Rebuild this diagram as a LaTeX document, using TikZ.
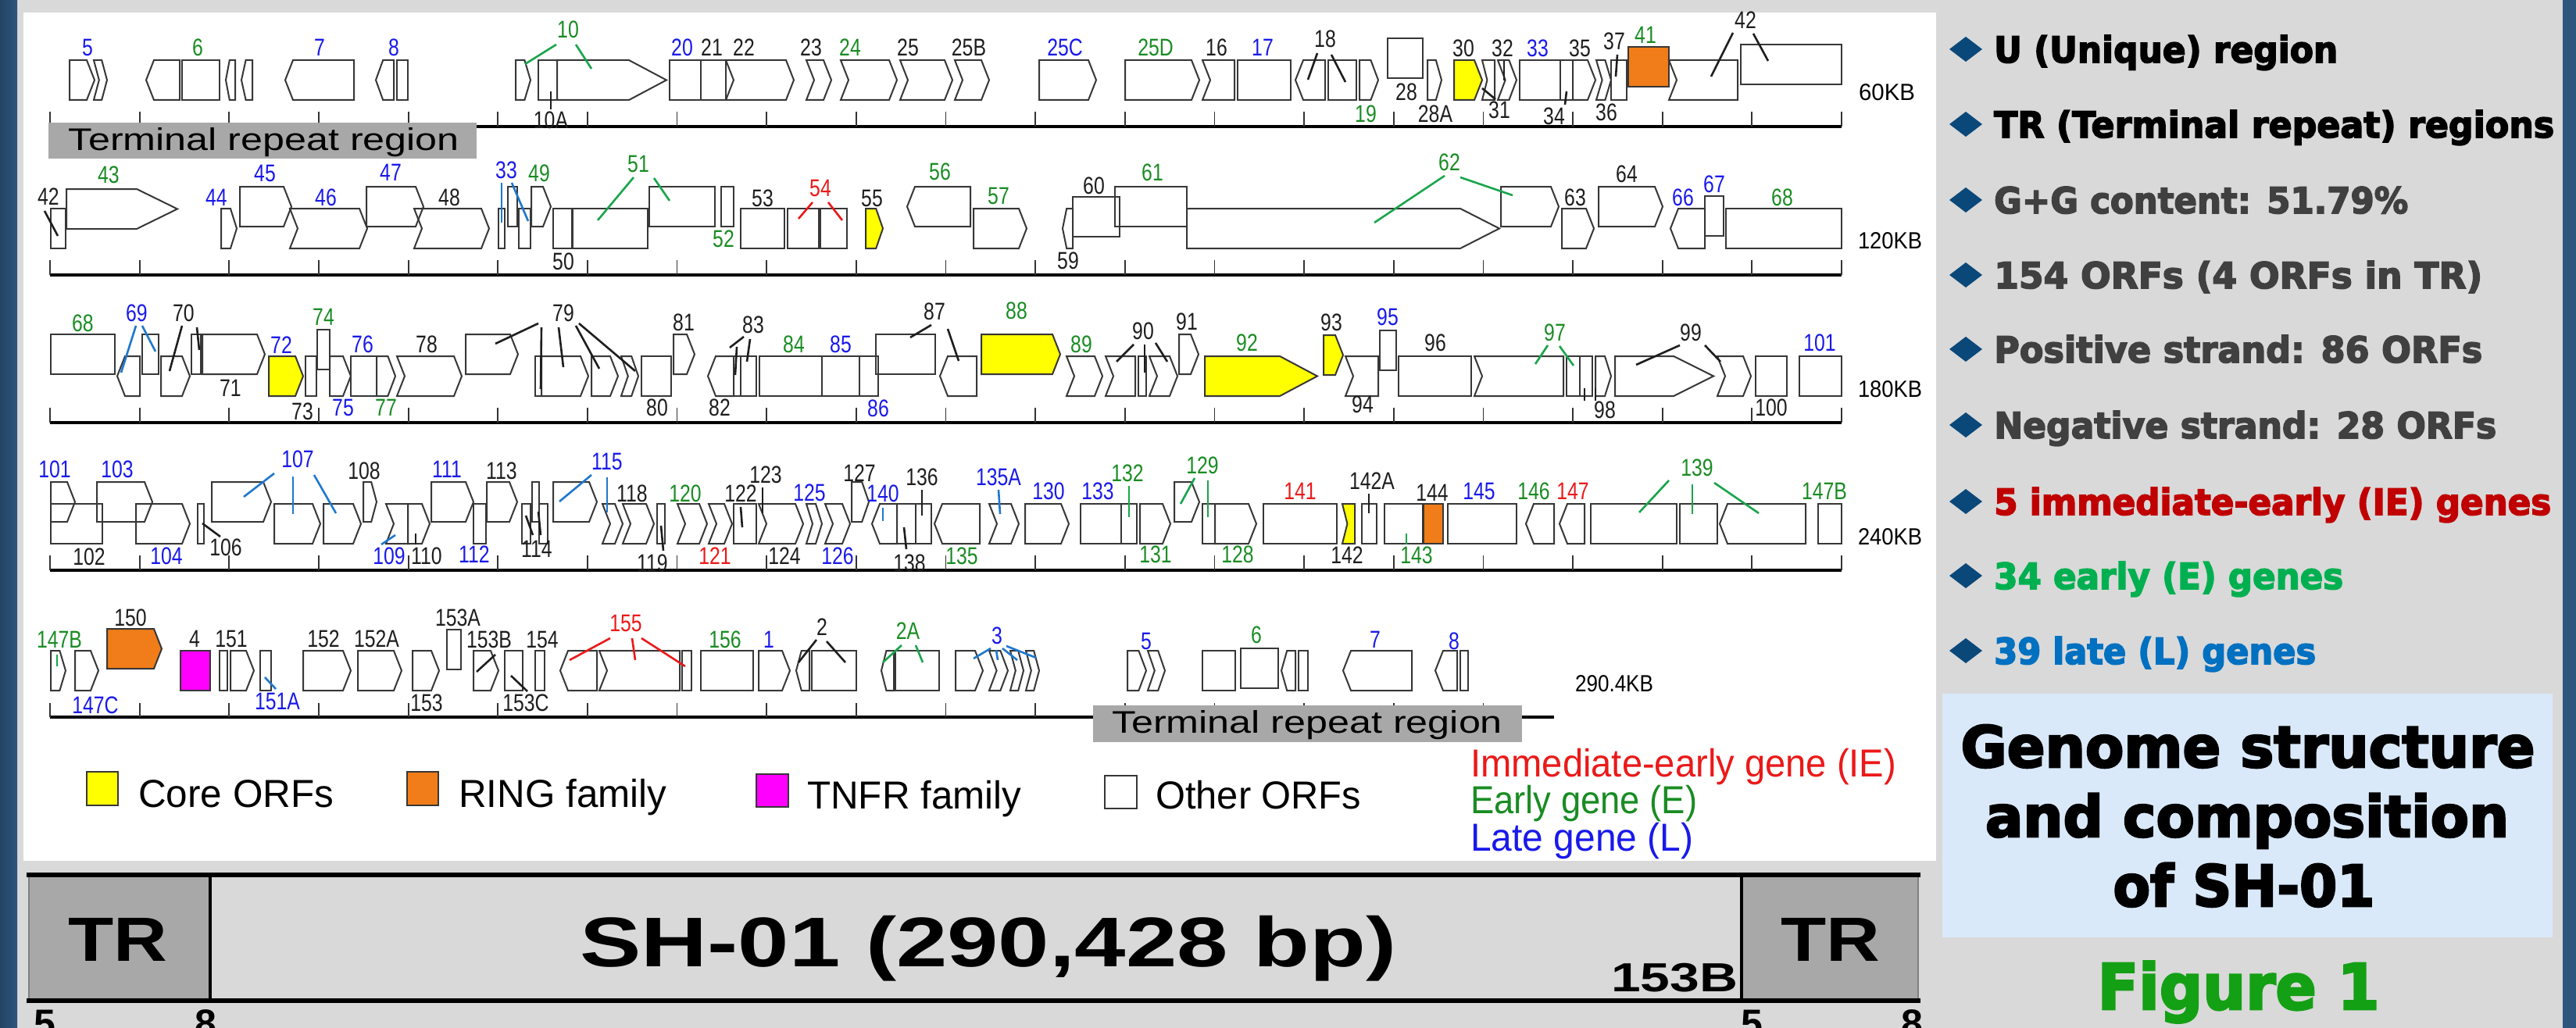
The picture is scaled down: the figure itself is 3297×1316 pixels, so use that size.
\documentclass[tikz,border=0pt]{standalone}
\usepackage{fontspec}
\usepackage{graphicx}
\setmainfont{Liberation Sans}
\newfontfamily\dvb{DejaVu Sans}
\newfontfamily\heavy{DejaVu Sans Bold}[FakeBold=3.5]
\definecolor{bg}{RGB}{217,217,217}
\definecolor{cB}{RGB}{25,25,235}
\definecolor{cG}{RGB}{25,140,35}
\definecolor{cR}{RGB}{235,25,25}
\definecolor{cK}{RGB}{30,30,30}
\definecolor{dB}{RGB}{30,120,205}
\definecolor{dG}{RGB}{25,165,75}
\definecolor{yel}{RGB}{255,255,0}
\definecolor{org}{RGB}{240,125,25}
\definecolor{mag}{RGB}{255,0,255}
\definecolor{trg}{RGB}{168,168,168}
\definecolor{gln}{RGB}{55,55,55}
\definecolor{dia}{RGB}{10,72,122}
\definecolor{dgr}{RGB}{64,64,64}
\definecolor{pR}{RGB}{192,0,0}
\definecolor{pG}{RGB}{0,176,80}
\definecolor{pB}{RGB}{0,112,192}
\definecolor{lbx}{RGB}{218,233,250}
\definecolor{figg}{RGB}{20,160,20}
\definecolor{edgeb}{RGB}{45,85,125}
\newcommand\sx[1]{\scalebox{0.8}[1]{#1}}
\newcommand\fitw[2]{\resizebox{#1pt}{\height}{#2}}
\newcommand\GB[4][none]{\draw[gb,fill=#1] (#2,#4) rectangle (#3,#4+51);}
\newcommand\GR[4][none]{\pgfmathsetmacro\tp{min(10,(#3-#2)*0.4)}\draw[gb,fill=#1] (#2,#4) -- ({#3-\tp},#4) -- (#3,#4+25.5) -- ({#3-\tp},#4+51) -- (#2,#4+51) -- cycle;}
\newcommand\GL[4][none]{\pgfmathsetmacro\tp{min(10,(#3-#2)*0.4)}\draw[gb,fill=#1] (#3,#4) -- ({#2+\tp},#4) -- (#2,#4+25.5) -- ({#2+\tp},#4+51) -- (#3,#4+51) -- cycle;}
\newcommand\GC[4][none]{\pgfmathsetmacro\tp{min(10,(#3-#2)*0.4)}\draw[gb,fill=#1] (#2,#4) -- ({#3-\tp},#4) -- (#3,#4+25.5) -- ({#3-\tp},#4+51) -- (#2,#4+51) -- ({#2+\tp},#4+25.5) -- cycle;}
\newcommand\GN[4][none]{\pgfmathsetmacro\tp{min(10,(#3-#2)*0.4)}\draw[gb,fill=#1] (#2,#4) -- (#3,#4) -- (#3,#4+51) -- (#2,#4+51) -- ({#2+\tp},#4+25.5) -- cycle;}
\newcommand\GA[5][none]{\draw[gb,fill=#1] (#2,#5) -- (#3,#5) -- (#4,#5+25.5) -- (#3,#5+51) -- (#2,#5+51) -- cycle;}
\newcount\lc
\newcommand\Lb[4]{\global\advance\lc by 1\relax\node[lbl,text=#1] (lb\the\lc) at (#2,#3) {\sx{#4}};}
\newcommand\Ld[5]{\draw[ld,#1] (#2,#3) -- (#4,#5);}
\begin{document}
\begin{tikzpicture}[x=1pt,y=-1pt,
  gb/.style={draw=gln,line width=2pt,line join=miter},
  lbl/.style={font=\fontsize{31}{31}\selectfont,inner sep=0pt},
  ld/.style={line width=2.6pt},
  axisline/.style={line width=4.5pt,draw=black},
  tickline/.style={line width=1.8pt,draw=black!80},
  kb/.style={font=\fontsize{30}{30}\selectfont,inner sep=0pt,text=black},
  leg/.style={font=\fontsize{50}{50}\selectfont,inner sep=0pt,anchor=base west},
  bul/.style={font=\heavy\fontsize{46}{46}\selectfont,inner sep=0pt,anchor=base west},
  ttl/.style={font=\heavy\fontsize{73}{73}\selectfont,inner sep=0pt,anchor=base,text=black}]
\clip (0,0) rectangle (3297,1316);
\fill[bg] (0,0) rectangle (3297,1316);
\fill[left color=edgeb!80!black,right color=edgeb] (0,0) rectangle (22,1316);
\fill[edgeb] (3280,0) rectangle (3297,1316);
\fill[white] (30,16) rectangle (2478,1102);
% ---------- axes ----------
\foreach \ay in {162,352,541,730}{
  \draw[axisline] (64,\ay) -- (2357,\ay);
  \foreach \i in {0,...,20} \draw[tickline] ({64+114.65*\i},\ay-19) -- ({64+114.65*\i},\ay);
}
\draw[axisline] (64,918) -- (1989,918);
\foreach \i in {0,...,16} \draw[tickline] ({64+114.65*\i},900) -- ({64+114.65*\i},918);
% ---------- row 1 ----------
\GR{89}{121}{77} \GC{120}{137}{77}
\GL{187}{230}{77} \GB{233}{281}{77} \GL{289}{301}{77} \GL{309}{323}{77}
\GL{365}{453}{77}
\GL{481}{504}{77} \GB{508}{522}{77}
\GR{660}{679}{77} \GB{689}{713}{77} \GA{713}{805}{853}{77}
\GB{857}{897}{77} \GB{897}{929}{77} \GC{929}{1016}{77}
\GC{1032}{1064}{77} \GC{1076}{1148}{77} \GC{1152}{1219}{77} \GC{1222}{1266}{77}
\GR{1330}{1403}{77} \GR{1440}{1535}{77}
\GN{1539}{1580}{77} \GB{1584}{1652}{77}
\GL{1658}{1696}{77} \GB{1700}{1736}{77} \GR{1740}{1764}{77}
\GB{1776}{1821}{49}
\GR{1827}{1845}{77}
\GR[yel]{1861}{1897}{77} \GN{1897}{1913}{77} \GC{1917}{1941}{77}
\GB{1945}{1997}{77} \GB{1997}{2013}{77} \GR{2013}{2042}{77} \GC{2043}{2062}{77} \GB{2062}{2082}{77}
\GB[org]{2084}{2136}{60}
\GN{2136}{2224}{77} \GB{2228}{2357}{57}
\Lb{cB}{112}{61}{5} \Lb{cG}{253}{61}{6} \Lb{cB}{409}{61}{7} \Lb{cB}{504}{61}{8}
\Lb{cG}{727}{38}{10} \Lb{cK}{705}{154}{10A}
\Lb{cB}{873}{61}{20} \Lb{cK}{911}{61}{21} \Lb{cK}{952}{61}{22} \Lb{cK}{1038}{61}{23}
\Lb{cG}{1088}{61}{24} \Lb{cK}{1162}{61}{25} \Lb{cK}{1240}{61}{25B} \Lb{cB}{1363}{61}{25C}
\Lb{cG}{1479}{61}{25D} \Lb{cK}{1557}{61}{16} \Lb{cB}{1616}{61}{17} \Lb{cK}{1696}{50}{18}
\Lb{cG}{1748}{146}{19} \Lb{cK}{1800}{118}{28} \Lb{cK}{1837}{146}{28A} \Lb{cK}{1873}{62}{30}
\Lb{cK}{1919}{141}{31} \Lb{cK}{1923}{62}{32} \Lb{cB}{1968}{62}{33} \Lb{cK}{1989}{149}{34}
\Lb{cK}{2022}{62}{35} \Lb{cK}{2056}{144}{36} \Lb{cK}{2066}{53}{37} \Lb{cG}{2106}{45}{41}
\Lb{cK}{2234}{26}{42}
\Ld{dG}{712}{57}{672}{82} \Ld{dG}{737}{57}{757}{88}
\Ld{cK}{705}{117}{705}{140}
\Ld{cK}{1686}{68}{1674}{102} \Ld{cK}{1704}{70}{1722}{105}
\Ld{cK}{1897}{113}{1914}{127} \Ld{cK}{1925}{78}{1925}{103}
\Ld{cK}{2005}{117}{2003}{134} \Ld{cK}{2070}{70}{2068}{98}
\Ld{cK}{2218}{42}{2190}{98} \Ld{cK}{2244}{43}{2263}{78}
\node[kb] (kb1) at (2415,118) {\fitw{72}{60KB}};
\fill[trg] (62,157) rectangle (610,203);
\node[inner sep=0pt,font=\fontsize{40}{40}\selectfont] (tra) at (338,182) {\fitw{500}{Terminal repeat region}};
% ---------- row 2 ----------
\GB{65}{84}{267}
\GA{85}{175}{227}{242}
\GR{283}{303}{267}
\GR{307}{373}{239}
\GC{371}{470}{267}
\GR{469}{542}{239}
\GC{530}{626}{267}
\GB{638}{646}{267} \GB{650}{662}{239} \GB{664}{679}{267}
\GR{680}{705}{239}
\GB{708}{732}{267}
\GB{733}{829}{267} \GB{831}{915}{239}
\GB{923}{939}{239}
\GB{948}{1004}{267} \GB{1008}{1048}{267} \GB{1050}{1084}{267}
\GR[yel]{1108}{1130}{267}
\GL{1161}{1242}{239}
\GR{1246}{1314}{267}
\GL{1360}{1373}{267}
\GB{1373}{1433}{252}
\GB{1427}{1519}{239}
\GA{1519}{1869}{1919}{267}
\GR{1921}{1995}{239}
\GR{1999}{2040}{267}
\GR{2046}{2128}{239}
\GL{2138}{2182}{267}
\GB{2182}{2206}{251}
\GB{2209}{2357}{267}
\Lb{cK}{62}{252}{42} \Lb{cG}{139}{224}{43} \Lb{cB}{277}{253}{44} \Lb{cB}{339}{222}{45}
\Lb{cB}{417}{253}{46} \Lb{cB}{500}{221}{47} \Lb{cK}{575}{253}{48} \Lb{cB}{648}{218}{33}
\Lb{cG}{690}{222}{49} \Lb{cK}{721}{335}{50} \Lb{cG}{817}{210}{51} \Lb{cG}{926}{306}{52}
\Lb{cK}{976}{254}{53} \Lb{cR}{1050}{241}{54} \Lb{cK}{1116}{254}{55} \Lb{cG}{1203}{220}{56}
\Lb{cG}{1278}{251}{57} \Lb{cK}{1367}{334}{59} \Lb{cK}{1400}{238}{60} \Lb{cG}{1475}{221}{61}
\Lb{cG}{1855}{208}{62} \Lb{cK}{2016}{253}{63} \Lb{cK}{2082}{223}{64} \Lb{cB}{2154}{253}{66}
\Lb{cB}{2194}{236}{67} \Lb{cG}{2281}{253}{68}
\Ld{cK}{57}{270}{74}{302}
\Ld{dB}{642}{234}{642}{285} \Ld{dB}{655}{234}{676}{283}
\Ld{dG}{811}{227}{765}{282} \Ld{dG}{837}{228}{857}{257}
\Ld{cR}{1040}{259}{1022}{280} \Ld{cR}{1060}{259}{1078}{282}
\Ld{dG}{1849}{225}{1759}{285} \Ld{dG}{1869}{227}{1936}{250}
\node[kb] (kb2) at (2419,308) {\fitw{82}{120KB}};
% ---------- row 3 ----------
\GB{65}{147}{428}
\GL{150}{179}{456} \GB{182}{203}{428}
\GR{206}{243}{456} \GB{245}{257}{428}
\GR{259}{339}{428}
\GR[yel]{344}{388}{456}
\GB{391}{405}{456}
\GB{406}{422}{422}
\GR{422}{449}{456}
\GB{449}{482}{456} \GR{482}{506}{456}
\GC{508}{591}{456}
\GR{596}{663}{428}
\GB{685}{693}{456} \GR{693}{753}{456} \GR{757}{791}{456} \GC{795}{817}{456}
\GB{821}{859}{456}
\GR{862}{889}{428}
\GL{906}{939}{456}
\GB{939}{948}{456} \GB{948}{968}{456}
\GB{972}{1052}{456} \GB{1052}{1100}{456} \GB{1100}{1124}{456}
\GB{1121}{1197}{428} \GL{1203}{1250}{456}
\GR[yel]{1256}{1357}{428}
\GC{1365}{1411}{456}
\GN{1415}{1453}{456} \GB{1457}{1467}{456} \GC{1471}{1507}{456}
\GR{1509}{1534}{428}
\GA[yel]{1542}{1638}{1686}{456}
\GR[yel]{1694}{1719}{429}
\GN{1722}{1764}{456}
\GB{1766}{1787}{423}
\GB{1790}{1883}{456}
\GN{1887}{2001}{456} \GB{2005}{2022}{456} \GB{2022}{2038}{456} \GR{2042}{2062}{456}
\GA{2067}{2142}{2193}{456} \GC{2198}{2241}{456}
\GB{2247}{2287}{456}
\GB{2303}{2357}{456}
\Lb{cG}{106}{414}{68} \Lb{cB}{175}{401}{69} \Lb{cK}{235}{401}{70} \Lb{cK}{295}{497}{71}
\Lb{cB}{360}{442}{72} \Lb{cK}{387}{527}{73} \Lb{cG}{414}{406}{74} \Lb{cB}{439}{522}{75}
\Lb{cB}{464}{441}{76} \Lb{cG}{494}{522}{77} \Lb{cK}{546}{441}{78} \Lb{cK}{721}{401}{79}
\Lb{cK}{841}{522}{80} \Lb{cK}{875}{413}{81} \Lb{cK}{921}{522}{82} \Lb{cK}{964}{416}{83}
\Lb{cG}{1016}{441}{84} \Lb{cB}{1076}{441}{85} \Lb{cB}{1124}{523}{86} \Lb{cK}{1196}{399}{87}
\Lb{cG}{1301}{398}{88} \Lb{cG}{1384}{441}{89} \Lb{cK}{1463}{424}{90} \Lb{cK}{1519}{412}{91}
\Lb{cG}{1596}{439}{92} \Lb{cK}{1704}{413}{93} \Lb{cK}{1744}{518}{94} \Lb{cB}{1776}{406}{95}
\Lb{cK}{1837}{439}{96} \Lb{cG}{1990}{426}{97} \Lb{cK}{2054}{525}{98} \Lb{cK}{2164}{426}{99}
\Lb{cK}{2267}{522}{100} \Lb{cB}{2329}{439}{101}
\Ld{dB}{174}{417}{155}{477} \Ld{dB}{182}{417}{199}{450}
\Ld{cK}{233}{417}{217}{475} \Ld{cK}{252}{419}{255}{448}
\Ld{cK}{689}{414}{634}{440} \Ld{cK}{693}{419}{692}{498} \Ld{cK}{715}{419}{721}{470}
\Ld{cK}{737}{417}{767}{472} \Ld{cK}{741}{414}{813}{475}
\Ld{cK}{952}{431}{934}{445} \Ld{cK}{960}{434}{956}{463} \Ld{cK}{943}{444}{941}{480}
\Ld{cK}{1192}{416}{1165}{432} \Ld{cK}{1213}{421}{1227}{462}
\Ld{cK}{1451}{441}{1429}{463} \Ld{cK}{1465}{441}{1465}{477} \Ld{cK}{1479}{439}{1494}{463}
\Ld{dG}{1981}{442}{1965}{466} \Ld{dG}{1996}{443}{2014}{468}
\Ld{cK}{2028}{497}{2028}{513} \Ld{cK}{2042}{497}{2042}{513}
\Ld{cK}{2150}{442}{2094}{467} \Ld{cK}{2182}{442}{2202}{463}
\node[kb] (kb3) at (2419,498) {\fitw{82}{180KB}};
% ---------- row 4 ----------
\GB{65}{131}{645} \GR{65}{96}{617}
\GR{124}{195}{617} \GR{174}{243}{645}
\GB{253}{261}{645}
\GR{271}{347}{617} \GR{351}{410}{645} \GR{414}{462}{645}
\GR{465}{482}{617}
\GN{494}{522}{645} \GR{522}{550}{645}
\GR{552}{606}{617} \GB{606}{622}{645}
\GR{623}{662}{617}
\GB{668}{679}{645} \GB{681}{690}{617} \GB{690}{701}{645}
\GR{708}{764}{617}
\GC{771}{797}{645} \GC{797}{837}{645}
\GB{841}{851}{645}
\GC{867}{905}{645} \GC{907}{937}{645} \GB{939}{968}{645} \GC{971}{1028}{645} \GC{1032}{1052}{645} \GC{1056}{1088}{645}
\GR{1090}{1112}{617}
\GL{1116}{1148}{645} \GB{1148}{1172}{645} \GB{1172}{1192}{645} \GL{1196}{1254}{645}
\GC{1266}{1304}{645} \GR{1312}{1368}{645}
\GB{1383}{1435}{645} \GB{1435}{1455}{645} \GR{1459}{1498}{645}
\GR{1503}{1535}{617}
\GB{1539}{1555}{645} \GR{1555}{1608}{645}
\GB{1617}{1711}{645}
\GN[yel]{1718}{1734}{645}
\GB{1743}{1762}{645}
\GB{1772}{1821}{645}
\GB[org]{1822}{1847}{645}
\GB{1853}{1941}{645}
\GL{1953}{1989}{645} \GL{1996}{2028}{645}
\GB{2036}{2146}{645} \GB{2150}{2198}{645} \GL{2201}{2311}{645}
\GB{2327}{2357}{645}
\Lb{cB}{70}{601}{101} \Lb{cK}{114}{713}{102} \Lb{cB}{150}{601}{103} \Lb{cB}{213}{712}{104}
\Lb{cK}{289}{701}{106} \Lb{cB}{381}{588}{107} \Lb{cK}{466}{603}{108} \Lb{cB}{498}{712}{109}
\Lb{cK}{546}{712}{110} \Lb{cB}{572}{601}{111} \Lb{cB}{607}{710}{112} \Lb{cK}{642}{603}{113}
\Lb{cK}{687}{703}{114} \Lb{cB}{777}{591}{115} \Lb{cK}{809}{632}{118} \Lb{cK}{835}{721}{119}
\Lb{cG}{877}{632}{120} \Lb{cR}{915}{712}{121} \Lb{cK}{948}{632}{122} \Lb{cK}{980}{608}{123}
\Lb{cK}{1004}{712}{124} \Lb{cB}{1036}{631}{125} \Lb{cB}{1072}{712}{126} \Lb{cK}{1100}{606}{127}
\Lb{cB}{1130}{632}{140} \Lb{cK}{1164}{721}{138} \Lb{cK}{1180}{611}{136} \Lb{cG}{1231}{712}{135}
\Lb{cB}{1278}{611}{135A} \Lb{cB}{1342}{629}{130} \Lb{cB}{1405}{629}{133} \Lb{cG}{1443}{606}{132}
\Lb{cG}{1479}{710}{131} \Lb{cG}{1539}{596}{129} \Lb{cG}{1584}{710}{128} \Lb{cR}{1664}{629}{141}
\Lb{cK}{1724}{711}{142} \Lb{cK}{1756}{616}{142A} \Lb{cG}{1813}{711}{143} \Lb{cK}{1833}{631}{144}
\Lb{cB}{1893}{629}{145} \Lb{cG}{1963}{629}{146} \Lb{cR}{2013}{629}{147} \Lb{cG}{2172}{599}{139}
\Lb{cG}{2335}{629}{147B}
\Ld{cK}{259}{670}{282}{687}
\Ld{dB}{351}{606}{312}{636} \Ld{dB}{375}{610}{375}{658} \Ld{dB}{402}{608}{430}{657}
\Ld{dB}{506}{685}{488}{697} \Ld{cK}{532}{683}{532}{697}
\Ld{cK}{673}{660}{682}{685} \Ld{cK}{689}{655}{692}{685}
\Ld{dB}{757}{608}{716}{642} \Ld{dB}{777}{611}{777}{656}
\Ld{cK}{846}{673}{849}{705}
\Ld{cK}{948}{649}{950}{675} \Ld{cK}{976}{624}{976}{657}
\Ld{dB}{1130}{650}{1130}{667} \Ld{cK}{1157}{675}{1160}{703} \Ld{cK}{1180}{627}{1180}{660}
\Ld{dB}{1278}{627}{1280}{658}
\Ld{dG}{1445}{622}{1445}{662}
\Ld{dG}{1529}{612}{1511}{645} \Ld{dG}{1546}{615}{1546}{662}
\Ld{cK}{1752}{632}{1752}{657}
\Ld{dG}{1800}{683}{1800}{697}
\Ld{dG}{2136}{615}{2098}{656} \Ld{dG}{2166}{620}{2166}{658} \Ld{dG}{2194}{618}{2251}{657}
\node[kb] (kb4) at (2419,687) {\fitw{82}{240KB}};
% ---------- row 5 ----------
\GR{65}{84}{833} \GR{96}{126}{833}
\GR[org]{137}{207}{805}
\GB[mag]{231}{269}{833}
\GB{281}{291}{833} \GR{295}{325}{833}
\GB{333}{347}{833}
\GR{388}{449}{833} \GR{458}{514}{833} \GR{528}{562}{833}
\GB{572}{590}{806}
\GR{606}{638}{833} \GB{646}{669}{833} \GB{685}{697}{833}
\GL{717}{764}{833} \GN{767}{870}{833} \GB{873}{885}{833}
\GB{897}{964}{833} \GR{971}{1011}{833}
\GL{1019}{1036}{833} \GB{1039}{1096}{833}
\GL{1128}{1144}{833} \GB{1146}{1202}{833}
\GR{1223}{1258}{833} \GC{1266}{1290}{833} \GC{1293}{1310}{833} \GC{1313}{1330}{833}
\GR{1443}{1467}{833} \GC{1469}{1491}{833}
\GB{1539}{1581}{833} \GB{1588}{1636}{830} \GL{1640}{1658}{833} \GB{1662}{1674}{833}
\GL{1719}{1807}{833}
\GL{1837}{1865}{833} \GB{1869}{1879}{833}
\Lb{cG}{76}{819}{147B} \Lb{cB}{122}{903}{147C} \Lb{cK}{167}{791}{150} \Lb{cK}{249}{818}{4}
\Lb{cK}{296}{818}{151} \Lb{cB}{355}{898}{151A} \Lb{cK}{414}{818}{152} \Lb{cK}{482}{818}{152A}
\Lb{cK}{546}{900}{153} \Lb{cK}{586}{791}{153A} \Lb{cK}{626}{819}{153B} \Lb{cK}{673}{900}{153C}
\Lb{cK}{694}{819}{154} \Lb{cR}{801}{798}{155} \Lb{cG}{928}{819}{156} \Lb{cB}{984}{819}{1}
\Lb{cK}{1052}{803}{2} \Lb{cG}{1162}{808}{2A} \Lb{cB}{1276}{814}{3} \Lb{cB}{1467}{821}{5}
\Lb{cG}{1608}{813}{6} \Lb{cB}{1760}{819}{7} \Lb{cB}{1861}{821}{8}
\Ld{dG}{73}{838}{73}{853}
\Ld{dB}{339}{867}{353}{882}
\Ld{cK}{634}{838}{610}{860} \Ld{cK}{654}{865}{675}{885}
\Ld{cR}{781}{817}{729}{845} \Ld{cR}{809}{817}{813}{845} \Ld{cR}{821}{817}{877}{853}
\Ld{cK}{1045}{819}{1022}{848} \Ld{cK}{1058}{821}{1082}{848}
\Ld{dG}{1154}{826}{1130}{848} \Ld{dG}{1172}{826}{1181}{848}
\Ld{dB}{1268}{830}{1246}{843} \Ld{dB}{1275}{832}{1277}{845} \Ld{dB}{1283}{830}{1302}{845} \Ld{dB}{1288}{827}{1326}{842}
\node[kb] (kb5) at (2066,875) {\fitw{100}{290.4KB}};
\fill[trg] (1399,903) rectangle (1948,950);
\node[inner sep=0pt,font=\fontsize{40}{40}\selectfont] (trb) at (1673,928) {\fitw{500}{Terminal repeat region}};
% ---------- legend ----------
\draw[gb,fill=yel] (111,988) rectangle (151,1031);
\node[leg] (lg1) at (177,1033) {\fitw{250}{Core ORFs}};
\draw[gb,fill=org] (521,988) rectangle (561,1031);
\node[leg] (lg2) at (587,1033) {\fitw{266}{RING family}};
\draw[gb,fill=mag] (968,991) rectangle (1009,1033);
\node[leg] (lg3) at (1033,1035) {\fitw{274}{TNFR family}};
\draw[gb,fill=white] (1414,993) rectangle (1455,1035);
\node[leg] (lg4) at (1479,1035) {\fitw{263}{Other ORFs}};
\node[leg,text=cR] (lg5) at (1882,994) {\fitw{545}{Immediate-early gene (IE)}};
\node[leg,text=cG] (lg6) at (1882,1041) {\fitw{290}{Early gene (E)}};
\node[leg,text=cB] (lg7) at (1882,1089) {\fitw{285}{Late gene (L)}};
% ---------- genome bar ----------
\fill[bg] (36,1120) rectangle (2456,1281);
\fill[trg] (36,1120) rectangle (269,1281);
\fill[trg] (2229,1120) rectangle (2456,1281);
\draw[line width=2pt,draw=gray] (37,1120) -- (37,1281) (2455,1120) -- (2455,1281);
\draw[line width=3.5pt] (269,1120) -- (269,1281) (2229,1120) -- (2229,1281);
\draw[line width=6pt] (34,1120) -- (2458,1120) (34,1281) -- (2458,1281);
\node[inner sep=0pt,anchor=base,font=\bfseries\fontsize{80}{80}\selectfont] (tr1) at (151,1230) {\fitw{127}{TR}};
\node[inner sep=0pt,anchor=base,font=\bfseries\fontsize{80}{80}\selectfont] (tr2) at (2343,1230) {\fitw{127}{TR}};
\node[inner sep=0pt,anchor=base,font=\bfseries\fontsize{90}{90}\selectfont] (sh) at (1265,1237) {\fitw{1045}{SH-01 (290,428 bp)}};
\node[inner sep=0pt,anchor=base,font=\bfseries\fontsize{52}{52}\selectfont] (b153) at (2143,1269) {\fitw{162}{153B}};
\foreach \bx/\bt [count=\k] in {57/5,263/8,2242/5,2447/8}
  \node[inner sep=0pt,anchor=base,font=\bfseries\fontsize{50}{50}\selectfont] (bd\k) at (\bx,1327) {\bt};
% ---------- right panel ----------
\foreach \yy in {63,159,256,352,447,544,642,737,833}
  \fill[dia] (2495,\yy) -- (2516,\yy-16) -- (2537,\yy) -- (2516,\yy+16) -- cycle;
\node[bul,text=black] (p1) at (2552,80) {\fitw{440}{U (Unique) region}};
\node[bul,text=black] (p2) at (2552,176) {\fitw{717}{TR (Terminal repeat) regions}};
\node[bul,text=dgr] (p3) at (2552,273) {\fitw{530}{G+G content: 51.79\%}};
\node[bul,text=dgr] (p4) at (2552,369) {\fitw{625}{154 ORFs (4 ORFs in TR)}};
\node[bul,text=dgr] (p5) at (2552,464) {\fitw{625}{Positive strand: 86 ORFs}};
\node[bul,text=dgr] (p6) at (2552,561) {\fitw{643}{Negative strand: 28 ORFs}};
\node[bul,text=pR] (p7) at (2552,659) {\fitw{713}{5 immediate-early (IE) genes}};
\node[bul,text=pG] (p8) at (2552,754) {\fitw{447}{34 early (E) genes}};
\node[bul,text=pB] (p9) at (2552,850) {\fitw{412}{39 late (L) genes}};
\fill[lbx] (2486,888) rectangle (3267,1200);
\node[ttl] (t1) at (2877,982) {\fitw{735}{Genome structure}};
\node[ttl] (t2) at (2876,1071) {\fitw{670}{and composition}};
\node[ttl] (t3) at (2872,1160) {\fitw{335}{of SH-01}};
\node[ttl,text=figg,font=\heavy\fontsize{81}{81}\selectfont] (fg) at (2865,1292) {\fitw{361}{Figure 1}};
\end{tikzpicture}
\end{document}
